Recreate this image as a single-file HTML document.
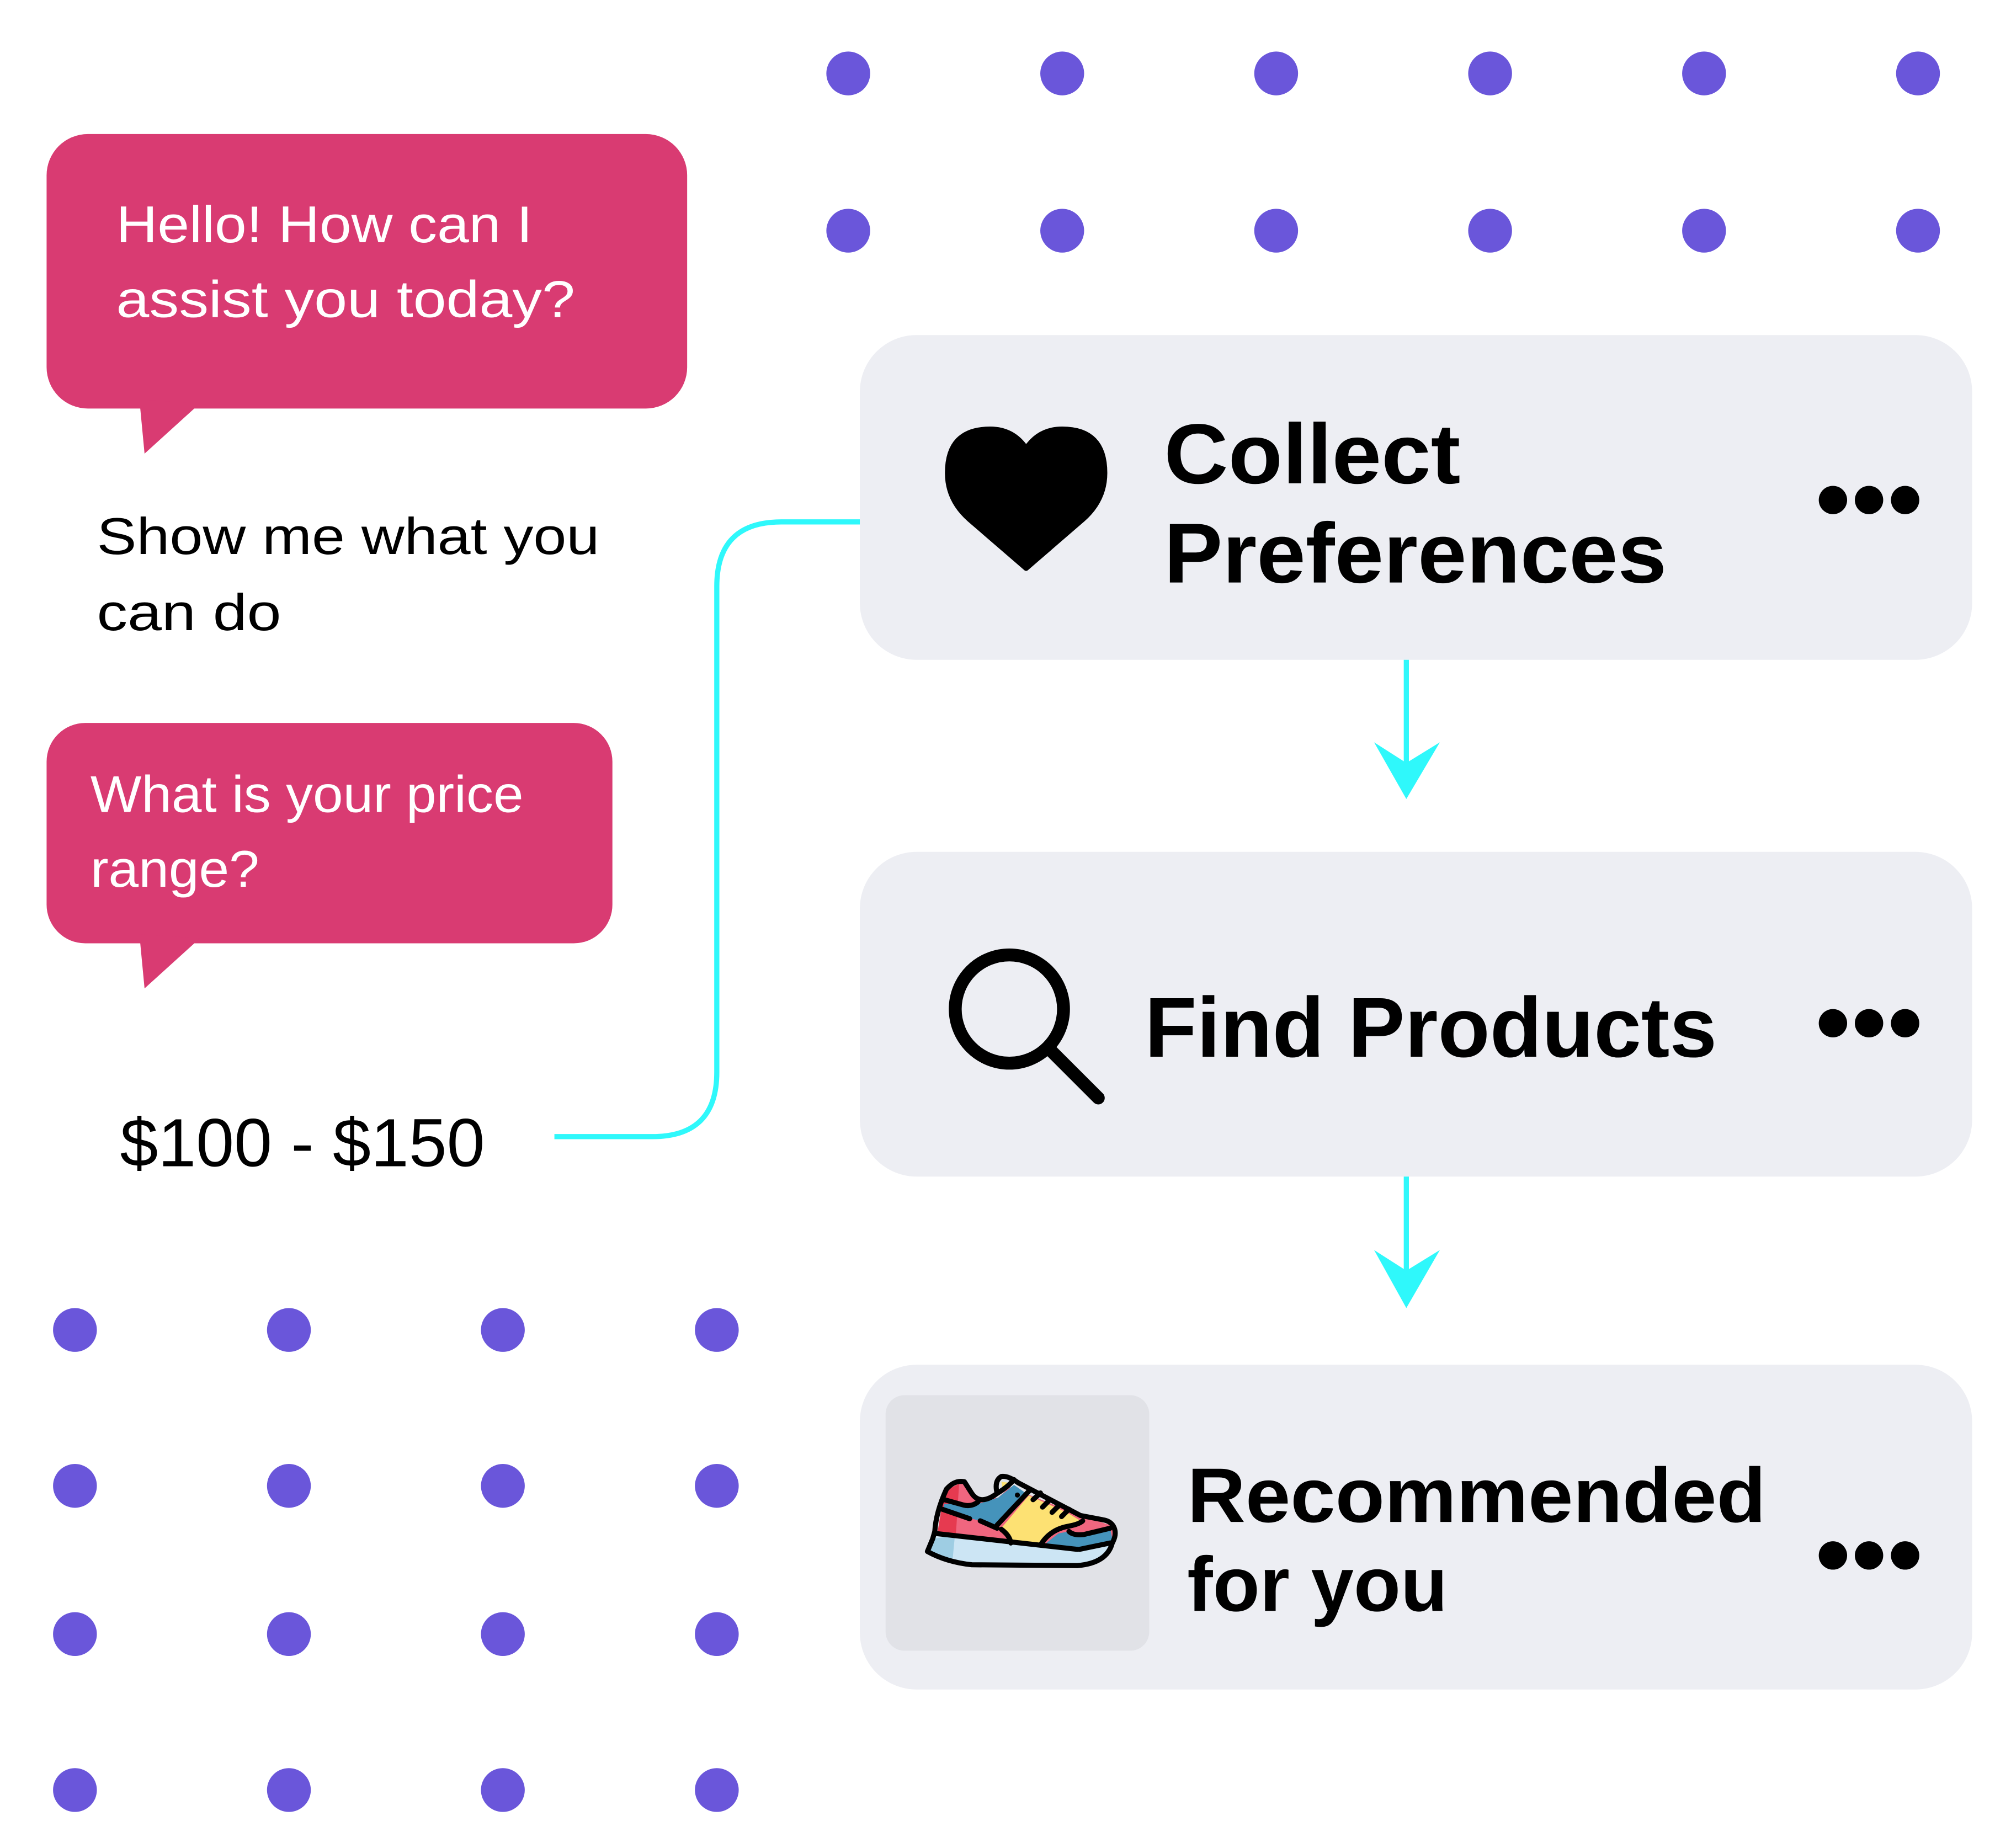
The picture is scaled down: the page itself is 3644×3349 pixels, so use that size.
<!DOCTYPE html>
<html><head><meta charset="utf-8"><style>
html,body{margin:0;padding:0;background:#fff}
svg{display:block}
</style></head><body>
<svg width="3644" height="3349" viewBox="0 0 1560 1434" xmlns="http://www.w3.org/2000/svg" font-family="'Liberation Sans', sans-serif">
<g fill="#6a56da">
<circle cx="658" cy="57" r="17"/><circle cx="824" cy="57" r="17"/><circle cx="990" cy="57" r="17"/><circle cx="1156" cy="57" r="17"/><circle cx="1322" cy="57" r="17"/><circle cx="1488" cy="57" r="17"/>
<circle cx="658" cy="179" r="17"/><circle cx="824" cy="179" r="17"/><circle cx="990" cy="179" r="17"/><circle cx="1156" cy="179" r="17"/><circle cx="1322" cy="179" r="17"/><circle cx="1488" cy="179" r="17"/>
<circle cx="58" cy="1032" r="17"/><circle cx="224" cy="1032" r="17"/><circle cx="390" cy="1032" r="17"/><circle cx="556" cy="1032" r="17"/>
<circle cx="58" cy="1153" r="17"/><circle cx="224" cy="1153" r="17"/><circle cx="390" cy="1153" r="17"/><circle cx="556" cy="1153" r="17"/>
<circle cx="58" cy="1268" r="17"/><circle cx="224" cy="1268" r="17"/><circle cx="390" cy="1268" r="17"/><circle cx="556" cy="1268" r="17"/>
<circle cx="58" cy="1389" r="17"/><circle cx="224" cy="1389" r="17"/><circle cx="390" cy="1389" r="17"/><circle cx="556" cy="1389" r="17"/>
</g>
<!-- bubbles -->
<g fill="#d93b72">
<rect x="36" y="104" width="497" height="213" rx="32"/>
<path d="M108 310 L112 352 L155 313 Z"/>
<rect x="36" y="561" width="439" height="171" rx="30"/>
<path d="M108 725 L112 767 L155 728 Z"/>
</g>
<g fill="#fff" font-size="40">
<text x="90" y="188" textLength="323" lengthAdjust="spacingAndGlyphs">Hello! How can I</text>
<text x="90" y="246" textLength="356" lengthAdjust="spacingAndGlyphs">assist you today?</text>
<text x="70" y="630" textLength="336" lengthAdjust="spacingAndGlyphs">What is your price</text>
<text x="70" y="688" textLength="131" lengthAdjust="spacingAndGlyphs">range?</text>
</g>
<g fill="#000">
<text x="75" y="430" font-size="40" textLength="390" lengthAdjust="spacingAndGlyphs">Show me what you</text>
<text x="75" y="489" font-size="40" textLength="143" lengthAdjust="spacingAndGlyphs">can do</text>
<text x="93" y="905" font-size="53" textLength="283" lengthAdjust="spacingAndGlyphs">$100 - $150</text>
</g>
<!-- connector -->
<path d="M667 405 H606 Q556 405 556 455 V832 Q556 882 506 882 H430" fill="none" stroke="#2ff8fb" stroke-width="4"/>
<!-- cards -->
<g fill="#edeef3">
<rect x="667" y="260" width="863" height="252" rx="44"/>
<rect x="667" y="661" width="863" height="252" rx="44"/>
<rect x="667" y="1059" width="863" height="252" rx="44"/>
</g>
<!-- arrows -->
<g stroke="#2ff8fb" stroke-width="4" fill="#2ff8fb">
<line x1="1091" y1="512" x2="1091" y2="600"/>
<line x1="1091" y1="913" x2="1091" y2="995"/>
</g>
<g fill="#2ff8fb">
<path d="M1066 576 L1091 620 L1117 576 L1091 592 Z"/>
<path d="M1066 970 L1091 1015 L1117 970 L1091 986 Z"/>
</g>
<!-- heart -->
<path d="M796 441 L752 403 Q735 388 735 367 Q735 333 768 333 Q786 333 796 348 Q806 333 824 333 Q857 333 857 367 Q857 388 840 403 Z" fill="#000" stroke="#000" stroke-width="4" stroke-linejoin="round"/>
<!-- magnifier -->
<circle cx="783" cy="783" r="42" fill="none" stroke="#000" stroke-width="10"/>
<line x1="815" y1="815" x2="852" y2="852" stroke="#000" stroke-width="10" stroke-linecap="round"/>
<!-- card text -->
<g fill="#000" font-weight="bold">
<text x="903" y="375" font-size="66" textLength="230" lengthAdjust="spacingAndGlyphs">Collect</text>
<text x="903" y="452" font-size="66" textLength="390" lengthAdjust="spacingAndGlyphs">Preferences</text>
<text x="888" y="820" font-size="66" textLength="444" lengthAdjust="spacingAndGlyphs">Find Products</text>
<text x="921" y="1181" font-size="60" textLength="449" lengthAdjust="spacingAndGlyphs">Recommended</text>
<text x="921" y="1250" font-size="60" textLength="202" lengthAdjust="spacingAndGlyphs">for you</text>
</g>
<g fill="#000">
<circle cx="1422" cy="388" r="11"/><circle cx="1450" cy="388" r="11"/><circle cx="1478" cy="388" r="11"/>
<circle cx="1422" cy="794" r="11"/><circle cx="1450" cy="794" r="11"/><circle cx="1478" cy="794" r="11"/>
<circle cx="1422" cy="1207" r="11"/><circle cx="1450" cy="1207" r="11"/><circle cx="1478" cy="1207" r="11"/>
</g>
<!-- shoe box -->
<svg x="685" y="1049" width="257" height="257" viewBox="0 0 1568 1568">
<rect x="12" y="205" width="1248" height="1210" rx="90" fill="#e1e2e7"/>
<path d="M235 885 L210 945 L300 985 L400 1012 L920 1012 L1020 990 L1080 940 L1085 905 L930 935 L250 860 Z" fill="#cce5f4"/>
<path d="M235 885 L210 945 L300 985 L330 975 L340 870 Z" fill="#9ecde3"/>
<path d="M258 855 L290 660 L375 615 L450 700 L545 690 L600 640 L935 775 L1075 820 L1100 880 L1085 905 L930 935 L600 905 Z" fill="#f0667f"/>
<path d="M258 855 L290 660 L360 625 L345 860 Z" fill="#e63a50"/>
<path d="M555 840 L690 680 L870 760 L935 800 L870 820 L800 850 L745 915 L605 905 Z" fill="#fde173"/>
<path d="M540 820 L670 665 L620 630 L545 690 L450 720 L290 720 L285 740 L420 790 L460 800 Z" fill="#4593bb"/>
<path d="M760 915 L830 860 L880 850 L900 870 L1075 835 L1088 900 L930 935 Z" fill="#4593bb"/>
<path d="M560 615 L612 622 L570 665 Z" fill="#fde173"/>
<g fill="none" stroke="#000" stroke-width="24" stroke-linecap="round" stroke-linejoin="round">
<path d="M235 885 L210 945 Q300 995 420 1008 L920 1012 Q1060 1000 1085 905 Q1110 860 1090 825 Q1075 800 1040 795 L935 775 L640 620 Q590 585 560 590 Q525 610 540 670 Q500 700 470 700 Q440 700 420 670 L385 615 Q340 605 300 650 Q250 760 245 850 Z"/>
<path d="M250 860 L920 935 M1075 905 L930 935"/>
<path d="M290 700 L380 725 Q420 735 450 710"/>
<path d="M280 745 L410 790 M460 800 L540 835"/>
<path d="M540 820 L690 660"/>
<path d="M560 840 Q600 870 605 905"/>
<path d="M745 915 Q790 840 880 825 Q930 815 945 800"/>
<path d="M880 850 Q900 870 950 865 L1075 835"/>
<path d="M540 670 Q590 640 620 605"/>
<path d="M710 700 L745 668 M755 735 L790 700 M800 760 L835 725 M845 780 L880 745"/>
</g>
<circle cx="636" cy="678" r="12" fill="#000"/>
</svg>
</svg>
</body></html>
